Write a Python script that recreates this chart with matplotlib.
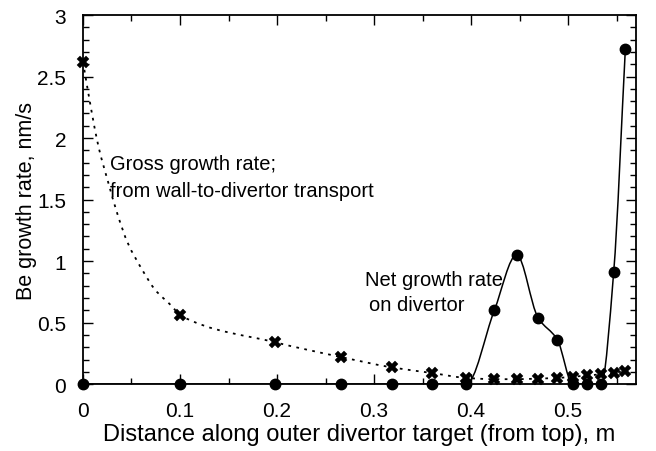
import numpy as np
import matplotlib.pyplot as plt
from matplotlib.path import Path
from matplotlib.patches import PathPatch
from matplotlib.ticker import MultipleLocator

plt.rcParams['font.family'] = ['Liberation Sans', 'DejaVu Sans']

# measured points
pos = [0.0, 0.1, 0.198, 0.266, 0.319, 0.36, 0.395, 0.424, 0.447, 0.469, 0.489,
       0.505, 0.52, 0.534, 0.547, 0.559]
gross = [2.62, 0.56, 0.34, 0.22, 0.135, 0.09, 0.05, 0.04, 0.04, 0.045, 0.05,
         0.06, 0.07, 0.08, 0.09, 0.11]
net = [0, 0, 0, 0, 0, 0, 0, 0.60, 1.05, 0.54, 0.36, 0, 0, 0, 0.91, 2.72]

# dotted trend line
trend_x = [0.0, 0.009, 0.016, 0.026, 0.036, 0.046, 0.061, 0.074, 0.092, 0.1,
           0.198, 0.266, 0.319, 0.36, 0.395, 0.424, 0.447, 0.469, 0.489,
           0.505, 0.52, 0.534, 0.547, 0.559]
trend_y = [2.62, 2.21, 1.93, 1.64, 1.37, 1.15, 0.93, 0.77, 0.63, 0.56,
           0.34, 0.22, 0.135, 0.09, 0.05, 0.04, 0.04, 0.045, 0.05,
           0.06, 0.07, 0.08, 0.09, 0.11]


def smooth_path(x, y):
    # monotone cubic (Fritsch-Carlson) as bezier segments
    x = np.asarray(x, float)
    y = np.asarray(y, float)
    h = np.diff(x)
    d = np.diff(y) / h
    m = np.zeros_like(x)
    m[0], m[-1] = d[0], d[-1]
    for i in range(1, len(x) - 1):
        if d[i - 1] * d[i] > 0:
            w1 = 2 * h[i] + h[i - 1]
            w2 = h[i] + 2 * h[i - 1]
            m[i] = (w1 + w2) / (w1 / d[i - 1] + w2 / d[i])
    verts = [(x[0], y[0])]
    codes = [Path.MOVETO]
    for i in range(len(x) - 1):
        verts += [(x[i] + h[i] / 3, y[i] + m[i] * h[i] / 3),
                  (x[i + 1] - h[i] / 3, y[i + 1] - m[i + 1] * h[i] / 3),
                  (x[i + 1], y[i + 1])]
        codes += [Path.CURVE4] * 3
    return Path(verts, codes)


fig = plt.figure(figsize=(6.56, 4.52), dpi=100)
ax = fig.add_axes([0.1265, 0.148, 0.843, 0.8165])

ax.add_patch(PathPatch(smooth_path(trend_x, trend_y), fill=False,
                       ls=(0, (1.5, 3)), lw=1.3, color='black'))
ax.add_patch(PathPatch(smooth_path(pos, net), fill=False, lw=1.1,
                       color='black'))

ax.plot(pos, gross, 'X', color='black', ms=8.5, mew=0.3, clip_on=False, zorder=5)
ax.plot(pos, net, 'o', color='black', ms=7.5, clip_on=False, zorder=5)

ax.text(0.028, 1.79, 'Gross growth rate;', fontsize=14.5, va='center')
ax.text(0.028, 1.57, 'from wall-to-divertor transport', fontsize=14.5, va='center')
ax.text(0.291, 0.854, 'Net growth rate', fontsize=14.5, va='center')
ax.text(0.295, 0.65, 'on divertor', fontsize=14.5, va='center')

ax.set_xlim(0, 0.57)
ax.set_ylim(0, 3)
ax.xaxis.set_major_locator(MultipleLocator(0.1))
ax.xaxis.set_minor_locator(MultipleLocator(0.05))
ax.yaxis.set_major_locator(MultipleLocator(0.5))
ax.yaxis.set_minor_locator(MultipleLocator(0.1))
ax.xaxis.set_major_formatter(plt.FuncFormatter(lambda v, p: '%g' % round(v, 2)))
ax.yaxis.set_major_formatter(plt.FuncFormatter(lambda v, p: '%g' % round(v, 2)))
ax.tick_params(which='both', direction='in', top=True, right=True,
               labelsize=15, width=1)
ax.tick_params(which='major', length=7, pad=12)
ax.tick_params(which='minor', length=4)
for s in ax.spines.values():
    s.set_linewidth(1.3)

ax.set_xlabel('Distance along outer divertor target (from top), m', fontsize=17,
              labelpad=2)
ax.set_ylabel('Be growth rate, nm/s', fontsize=15.5, labelpad=0)

fig.savefig('out.png', dpi=100)
